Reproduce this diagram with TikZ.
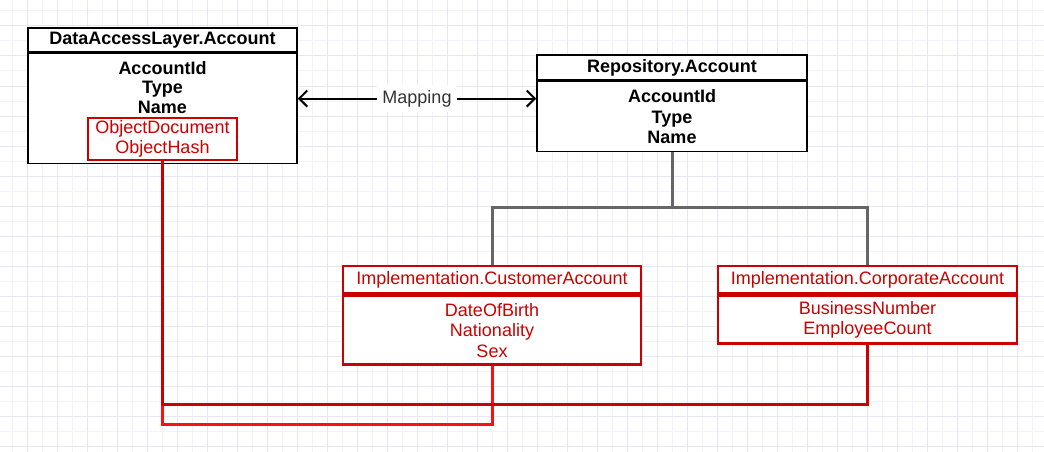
\documentclass[tikz,border=0pt]{standalone}
\usepackage{fontspec}
\setmainfont{Liberation Sans}
\usetikzlibrary{positioning, arrows.meta}
\definecolor{umlred}{HTML}{CC0000}
\definecolor{linkred}{HTML}{FF1010}
\definecolor{treegray}{HTML}{666666}
\definecolor{gridminor}{HTML}{F2F2FA}
\definecolor{gridmajor}{HTML}{E6E6F4}
\tikzset{
	classhead/.style={draw=black, line width=1.6pt, fill=white, inner sep=0pt, font=\bfseries},
	classbody/.style={draw=black, line width=1.6pt, fill=white, inner sep=0pt, align=center, font=\bfseries},
	implhead/.style={draw=umlred, line width=2.6pt, fill=white, inner sep=0pt, text=umlred},
	implbody/.style={draw=umlred, line width=2.6pt, fill=white, inner sep=0pt, text=umlred, align=center},
	tree/.style={treegray, line width=3pt},
	darklink/.style={umlred, line width=3pt},
	brightlink/.style={linkred, line width=3pt},
	maparrow/.style={{Straight Barb[length=8pt, width=16pt]}-{Straight Barb[length=8pt, width=16pt]}, line width=2pt}
}
\begin{document}
\fontsize{18}{20.5}\selectfont
\begin{tikzpicture}[x=1pt, y=-1pt]
		\useasboundingbox[fill=white] (0, 0) rectangle (1044, 452);
		\draw[gridminor, line width=1pt, step=15pt, xshift=12pt, yshift=-11pt] (-15, -15) grid (1050, 460);
		\draw[gridmajor, line width=1pt, step=30pt, xshift=27pt, yshift=-26pt] (-30, -30) grid (1050, 460);
		\node[classhead, minimum width=269pt, minimum height=24pt] (dalh) at (162.5, 40) {DataAccessLayer.Account};
		\node[classbody, minimum width=269pt, minimum height=110pt, below=0pt of dalh] (dalb) {};
		\node[font=\bfseries, align=center, inner sep=0pt] (dalf) at (162.5, 87.5) {AccountId\\[-1pt]Type\\[-1pt]Name};
		\node[implbody, minimum width=149pt, minimum height=42pt] (dalx) at (162.5, 139) {ObjectDocument\\ObjectHash};
		\node[classhead, minimum width=270pt, minimum height=25pt] (repoh) at (672, 67.5) {Repository.Account};
		\node[classbody, minimum width=270pt, minimum height=70pt, below=0pt of repoh] (repob) {AccountId\\Type\\Name};
		\node[implhead, minimum width=298pt, minimum height=27pt] (custh) at (492, 279.5) {Implementation.CustomerAccount};
		\node[implbody, minimum width=298pt, minimum height=69pt, below=0pt of custh] (custb) {DateOfBirth\\Nationality\\Sex};
		\node[implhead, minimum width=299pt, minimum height=27pt] (corph) at (867.5, 279.5) {Implementation.CorporateAccount};
		\node[implbody, minimum width=299pt, minimum height=48pt, below=0pt of corph] (corpb) {BusinessNumber\\EmployeeCount};
		\draw[maparrow] ([yshift=10pt]dalb.east) -- node[fill=white, text=black!80, inner sep=5pt] (map) {Mapping} ([yshift=10pt]dalb.east -| repob.west);
		\coordinate (fork) at (672, 207);
		\draw[tree] (repob.south) -- (fork) -| (custh.north);
		\draw[tree] (fork) -| (corph.north);
		\draw[brightlink] (custb.south) -- ++(0, 59) -| (dalx.south);
		\draw[darklink] (corpb.south) -- ++(0, 60) -| (dalx.south);
		\end{tikzpicture}
\end{document}
